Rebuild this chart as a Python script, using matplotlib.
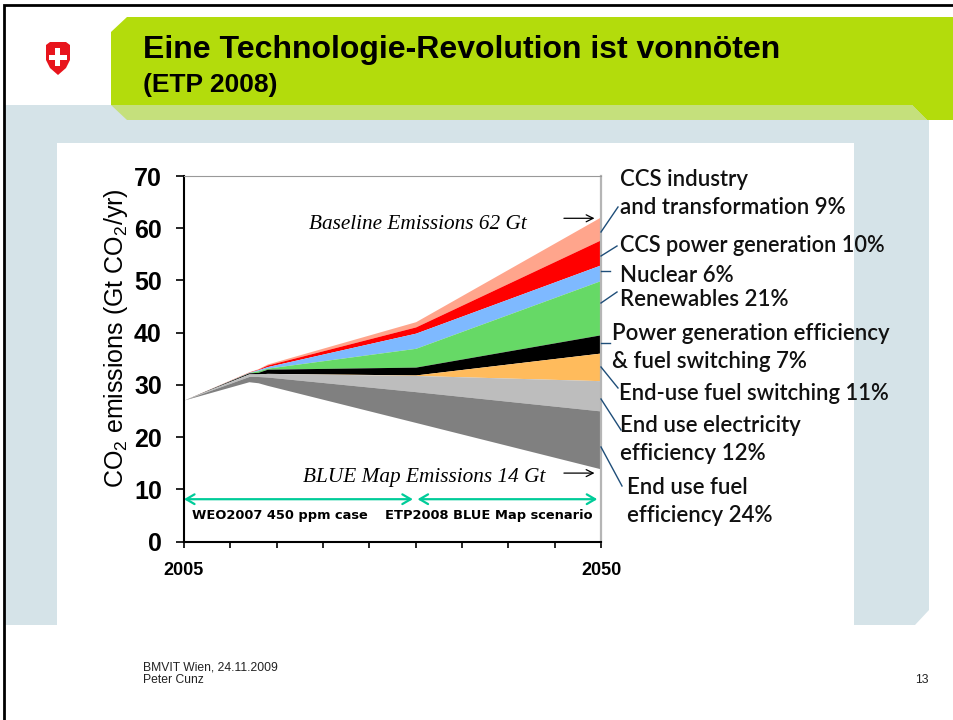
import matplotlib
matplotlib.use("Agg")
import matplotlib.pyplot as plt
from matplotlib.patches import Polygon, Rectangle

plt.rcParams['font.family'] = ['Liberation Sans', 'DejaVu Sans']
plt.rcParams['mathtext.fontset'] = 'custom'
plt.rcParams['mathtext.rm'] = 'Liberation Sans'
plt.rcParams['mathtext.default'] = 'rm'

# values
years = [2005, 2012, 2013, 2014, 2030, 2050]
ccs_industry = [27.1, 32.5, 33.1, 34.0, 42.1, 62.2]
ccs_power = [27.1, 32.45, 33.0, 33.8, 41.1, 57.8]
nuclear = [27.1, 32.4, 32.9, 33.5, 39.9, 53.0]
renewables = [27.1, 32.35, 32.7, 33.2, 37.0, 50.0]
power_eff = [27.1, 32.3, 32.4, 33.0, 33.4, 39.6]
fuel_switch = [27.1, 32.1, 32.1, 32.2, 31.9, 36.1]
electricity_eff = [27.1, 32.1, 32.1, 32.2, 31.8, 30.8]
fuel_eff = [27.1, 31.6, 31.6, 31.5, 28.7, 25.0]
blue_map = [27.1, 30.6, 30.4, 29.9, 22.8, 13.9]

layers = [ccs_industry, ccs_power, nuclear, renewables, power_eff,
          fuel_switch, electricity_eff, fuel_eff, blue_map]
colors = ['#ffa58c', '#ff0000', '#7eb9ff', '#66d966', '#000000',
          '#ffbb5c', '#bdbdbd', '#808080']

y_ticks = [0, 10, 20, 30, 40, 50, 60, 70]
x_ticks = [2005, 2010, 2015, 2020, 2025, 2030, 2035, 2040, 2045, 2050]
x_labels = ['2005', '', '', '', '', '', '', '', '', '2050']

W, H = 954, 720
fig = plt.figure(figsize=(W / 100, H / 100), dpi=100)

# slide background, pixel coordinates
bg = fig.add_axes([0, 0, 1, 1])
bg.set_xlim(0, W)
bg.set_ylim(H, 0)
bg.axis('off')
bg.add_patch(Polygon([(5, 105), (929, 105), (929, 610), (915, 625), (5, 625)], color='#d5e3e8', lw=0))
bg.add_patch(Polygon([(127, 17), (954, 17), (954, 120), (927, 120), (912, 105), (111, 105), (111, 32)],
                     color='#b3dc0c', lw=0))
bg.add_patch(Polygon([(111, 105), (912, 105), (927, 120), (127, 120)], color='#c5e07c', lw=0))
bg.add_patch(Rectangle((57, 143), 797, 507, color='white', lw=0))
bg.plot([4, 4, 954], [720, 5, 5], color='black', lw=2, solid_joinstyle='miter')

# shield
bg.add_patch(Polygon([(46, 45), (50, 42), (66, 42), (70, 45), (70, 60), (66, 68), (58, 75), (50, 68), (46, 60)],
                     color='#e8141c', lw=0))
bg.add_patch(Rectangle((55.5, 48), 5, 18, color='white', lw=0))
bg.add_patch(Rectangle((49, 54.5), 18, 5, color='white', lw=0))

bg.text(143, 50, 'Eine Technologie-Revolution ist vonnöten', fontsize=23, fontweight='bold', va='center')
bg.text(143, 85, '(ETP 2008)', fontsize=19, fontweight='bold', va='center')
bg.text(143, 667, 'BMVIT Wien, 24.11.2009', fontsize=8.7, va='center', color='#222222')
bg.text(143, 680, 'Peter Cunz', fontsize=8.7, va='center', color='#222222')
bg.text(929, 680, '13', fontsize=8.7, va='center', ha='right', color='#222222')

# chart
ax = fig.add_axes([184 / W, (H - 541.5) / H, 417 / W, 365.5 / H])
ax.set_xlim(2005, 2050)
ax.set_ylim(0, 70)
for i in range(len(colors)):
    ax.fill_between(years, layers[i + 1], layers[i], color=colors[i], lw=0)

ax.spines['top'].set_color('#999999')
ax.spines['right'].set_color('#b5b5b5')
ax.spines['right'].set_linewidth(1.6)
ax.spines['left'].set_linewidth(1.5)
ax.spines['bottom'].set_linewidth(1.5)
ax.set_yticks(y_ticks)
ax.set_xticks(x_ticks)
ax.set_xticklabels(x_labels)
ax.tick_params(axis='y', length=6, width=1.2, pad=10, labelsize=18)
ax.tick_params(axis='x', length=4.5, width=1.2, pad=10, labelsize=13)
for t in ax.get_yticklabels() + ax.get_xticklabels():
    t.set_fontweight('bold')
ax.set_ylabel('CO$_2$ emissions (Gt CO$_2$/yr)', fontsize=18)
ax.yaxis.set_label_coords(-0.13, 0.557)

arrow_green = dict(arrowstyle='<->,head_length=0.6,head_width=0.35', color='#00cc99', lw=1.6, shrinkA=0, shrinkB=0)
ax.annotate('', xy=(2005, 8.1), xytext=(2029.7, 8.1), arrowprops=arrow_green)
ax.annotate('', xy=(2030.2, 8.1), xytext=(2049.6, 8.1), arrowprops=arrow_green)
arrow_black = dict(arrowstyle='->,head_length=0.5,head_width=0.25', color='black', lw=0.9, shrinkA=0, shrinkB=0)
ax.annotate('', xy=(2049.3, 61.9), xytext=(2046, 61.9), arrowprops=arrow_black)
ax.annotate('', xy=(2049.3, 13.1), xytext=(2046, 13.1), arrowprops=arrow_black)

ax.text(2018.5, 60.7, 'Baseline Emissions 62 Gt', family='Liberation Serif', style='italic',
        fontsize=15.3, va='center')
ax.text(2017.8, 12.2, 'BLUE Map Emissions 14 Gt', family='Liberation Serif', style='italic',
        fontsize=15.3, va='center')
ax.text(2005.9, 4.9, 'WEO2007 450 ppm case', family='DejaVu Sans', fontweight='bold', fontsize=9.4, va='center')
ax.text(2026.65, 4.9, 'ETP2008 BLUE Map scenario', family='DejaVu Sans', fontweight='bold', fontsize=9.35, va='center')

# top layer for the labels, they run over the panel edge
fg = fig.add_axes([0, 0, 1, 1])
fg.set_xlim(0, W)
fg.set_ylim(H, 0)
fg.axis('off')
leaders = [((601, 232), (618, 207)), ((601, 256), (617, 246)), ((601, 271), (610, 271)),
           ((601, 303), (617, 292)), ((601, 343), (610, 343)), ((601, 367), (618, 388)),
           ((601, 399), (621, 430)), ((601, 447), (622, 486))]
for a, b in leaders:
    fg.plot([a[0], b[0]], [a[1], b[1]], color='#1f4e79', lw=1)

labels = [(620, 180, 'CCS industry', 16), (620, 208, 'and transformation 9%', 16),
          (620, 245, 'CCS power generation 10%', 15.7), (620, 276, 'Nuclear 6%', 16),
          (620, 300, 'Renewables 21%', 16), (612, 333, 'Power generation efficiency', 16),
          (612, 362, '& fuel switching 7%', 16), (619, 393, 'End-use fuel switching 11%', 15.8),
          (620, 425, 'End use electricity', 16), (620, 454, 'efficiency 12%', 16),
          (627, 487, 'End use fuel', 16), (627, 516, 'efficiency 24%', 16)]
for x, y, s, size in labels:
    fg.text(x, y, s, family='Lato', fontweight='semibold', fontsize=size, va='center', color='#111111')

fig.savefig('out.png', dpi=100)
